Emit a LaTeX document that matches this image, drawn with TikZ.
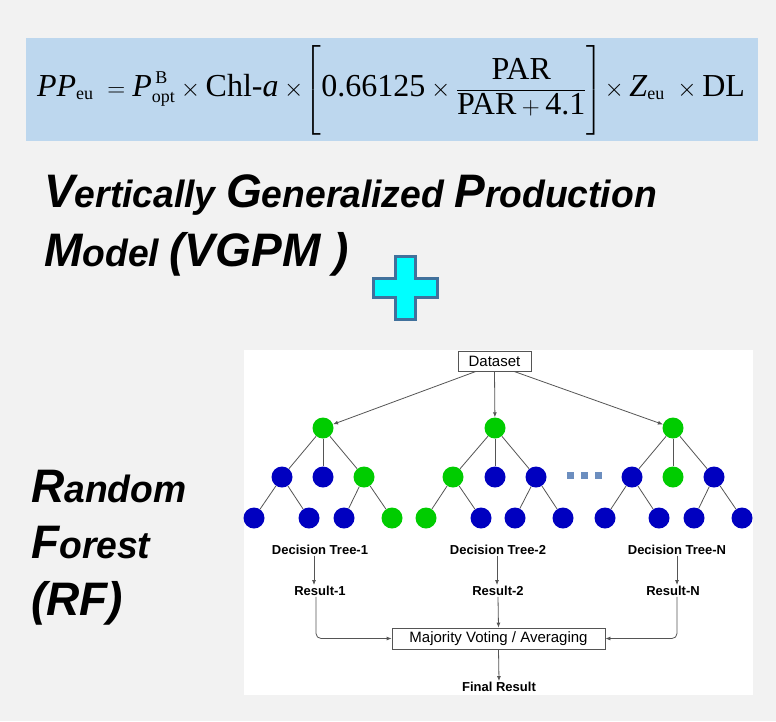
\documentclass[tikz,border=0pt]{standalone}
\usepackage{amsmath}
\usepackage{fontspec}
\setmainfont{Liberation Serif}
\newfontfamily\sansf{Liberation Sans}
\newfontfamily\headf[FakeStretch=0.98]{Liberation Sans}
\usetikzlibrary{arrows.meta,calc}

\definecolor{pagebg}{HTML}{F2F2F2}
\definecolor{eqfill}{HTML}{BDD7EE}
\definecolor{plusfill}{HTML}{00FFFF}
\definecolor{plusline}{HTML}{41719C}
\definecolor{leafgreen}{HTML}{00CC00}
\definecolor{nodeblue}{HTML}{0000C0}
\definecolor{edgegray}{HTML}{555555}
\definecolor{dotblue}{HTML}{6C8EBF}

% large initial letters of the headings
\newcommand\capL[1]{{\fontsize{47}{50}\selectfont #1}}
% small index text in the formula
\newcommand\idx[1]{\mbox{\fontsize{18}{20}\selectfont #1}}

\tikzset{
  gnode/.style={circle, fill=leafgreen, minimum size=21pt, inner sep=0pt},
  bnode/.style={circle, fill=nodeblue, minimum size=21pt, inner sep=0pt},
  tedge/.style={draw=edgegray, line width=0.8pt},
  arr/.style={draw=edgegray, line width=0.8pt, -{Latex[length=5pt,width=4pt]}},
  heading/.style={anchor=base west, inner sep=0pt, font=\headf\bfseries\itshape\fontsize{38}{40}\selectfont},
  lbl/.style={inner sep=1pt, font=\sansf\bfseries\fontsize{13}{15}\selectfont},
  boxed/.style={draw=edgegray, line width=0.8pt, fill=white, inner sep=0pt, font=\sansf\fontsize{15}{17}\selectfont},
  dotsq/.style={fill=dotblue, minimum size=7pt, inner sep=0pt}
}

\begin{document}
\begin{tikzpicture}[x=1pt,y=-1pt]
% page
\fill[pagebg] (0,0) rectangle (776,721);
\useasboundingbox (0,0) rectangle (776,721);

% formula banner
\fill[eqfill] (26,38) rectangle (758,141);
\node (eq) at (391,90) {\fontsize{32}{38}\selectfont
  $\text{\textit{PP}}_{\idx{eu}}\; = \text{\textit{P}}^{\,\idx{B}}_{\idx{opt}} \times \text{Chl-\textit{a}} \times\!
  \left[\rule[-32pt]{0pt}{80pt} \text{0.66125} \times \dfrac{\text{PAR}}{\text{PAR} + \text{4.1}} \right]\! \times \text{\textit{Z}}_{\idx{eu}}\; \times \text{DL}$};

% headings
\node[heading] (vg1) at (44,207) {\capL{V}ertically \capL{G}eneralized \capL{P}roduction};
\node[heading] (vg2) at (44,266) {\capL{M}odel \capL{(VGPM )}};

% plus sign
\draw[plusline, line width=3pt, fill=plusfill]
  (395.5,256.5) -- (415.5,256.5) -- (415.5,278.5) -- (437.5,278.5) -- (437.5,297.5)
  -- (415.5,297.5) -- (415.5,319.5) -- (395.5,319.5) -- (395.5,297.5) -- (373.5,297.5)
  -- (373.5,278.5) -- (395.5,278.5) -- cycle;

\node[heading] (rf1) at (31,502) {\capL{R}andom};
\node[heading] (rf2) at (31,558) {\capL{F}orest};
\node[heading] (rf3) at (31,615) {\capL{(RF)}};

% random forest panel
\fill[white] (244,350) rectangle (753,695);
\node[boxed, minimum width=73pt, minimum height=20pt] (ds) at (494.5,361) {Dataset};

% tree 1
\node[gnode] (a0) at (323,428) {};
\node[bnode] (a1) at (282,477) {};
\node[bnode] (a2) at (323,477) {};
\node[gnode] (a3) at (364,477) {};
\node[bnode] (a11) at (254,518) {};
\node[bnode] (a12) at (309,518) {};
\node[bnode] (a31) at (344,518) {};
\node[gnode] (a32) at (392,518) {};
% tree 2
\node[gnode] (b0) at (495,428) {};
\node[gnode] (b1) at (453,477) {};
\node[bnode] (b2) at (495,477) {};
\node[bnode] (b3) at (536,477) {};
\node[gnode] (b11) at (426,518) {};
\node[bnode] (b12) at (481,518) {};
\node[bnode] (b31) at (515,518) {};
\node[bnode] (b32) at (563,518) {};
% tree N
\node[gnode] (c0) at (673,428) {};
\node[bnode] (c1) at (632,477) {};
\node[gnode] (c2) at (673,477) {};
\node[bnode] (c3) at (714,477) {};
\node[bnode] (c11) at (605,518) {};
\node[bnode] (c12) at (659,518) {};
\node[bnode] (c31) at (694,518) {};
\node[bnode] (c32) at (742,518) {};

\foreach \t in {a,b,c}{
  \draw[tedge] (\t0) -- (\t1);
  \draw[tedge] (\t0) -- (\t2);
  \draw[tedge] (\t0) -- (\t3);
  \draw[tedge] (\t1) -- (\t11);
  \draw[tedge] (\t1) -- (\t12);
  \draw[tedge] (\t3) -- (\t31);
  \draw[tedge] (\t3) -- (\t32);
}

% ellipsis between the trees
\node[dotsq] (d1) at (570,475) {};
\node[dotsq] (d2) at (584,475) {};
\node[dotsq] (d3) at (598,475) {};

% dataset to tree roots
\draw[arr] ($(ds.south)+(-18.5,0)$) -- (a0);
\draw[arr] (ds.south) -- (b0);
\draw[arr] ($(ds.south)+(19.5,0)$) -- (c0);

% results
\node[lbl] (dt1) at (320,550) {Decision Tree-1};
\node[lbl] (dt2) at (498,550) {Decision Tree-2};
\node[lbl] (dtN) at (677,550) {Decision Tree-N};
\node[lbl] (r1) at (320,591) {Result-1};
\node[lbl] (r2) at (498,591) {Result-2};
\node[lbl] (rN) at (673,591) {Result-N};
\node[boxed, minimum width=213pt, minimum height=21pt] (mv) at (498.5,638.5) {Majority Voting / Averaging};
\node[lbl] (fr) at (499,687) {Final Result};

\draw[arr] ($(dt1.south)+(-6,0)$) -- ($(r1.north)+(-6,0)$);
\draw[arr] ($(dt2.south)+(-1,0)$) -- ($(r2.north)+(-1,0)$);
\draw[arr] (dtN.south) -- ($(rN.north)+(4,0)$);
\draw[arr, rounded corners=5pt] ($(r1.south)+(-4,0)$) |- (mv.west);
\draw[arr] (r2.south) -- (mv.north);
\draw[arr, rounded corners=5pt] ($(rN.south)+(4,0)$) |- (mv.east);
\draw[arr] (mv.south) -- (fr.north);
\end{tikzpicture}
\end{document}
